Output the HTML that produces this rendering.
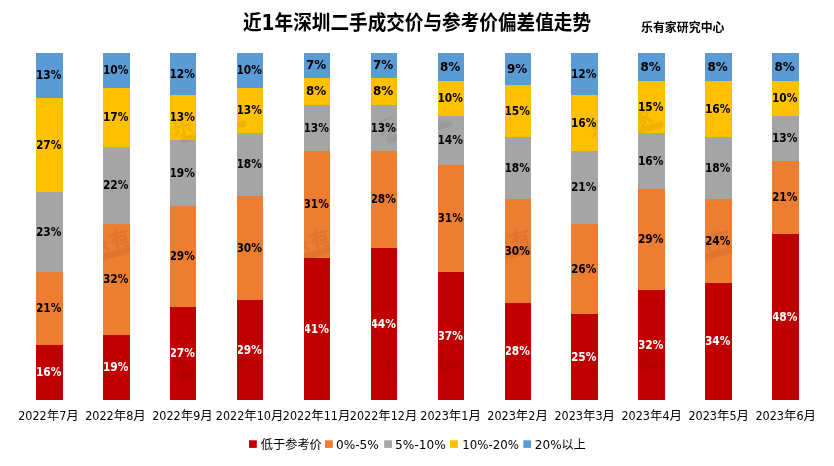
<!DOCTYPE html>
<html lang="zh-CN">
<head>
<meta charset="utf-8">
<title>近1年深圳二手成交价与参考价偏差值走势</title>
<style>
html,body{margin:0;padding:0;background:#fff;}
body{width:834px;height:466px;overflow:hidden;}
svg{display:block;}
.title{font-family:"DejaVu Sans","Liberation Sans","Noto Sans CJK SC",sans-serif;font-weight:bold;font-size:20.6px;fill:#000;}
.sub{font-family:"Liberation Sans","Noto Sans CJK SC",sans-serif;font-weight:bold;font-size:12px;fill:#000;}
.dl{font-family:"DejaVu Sans Condensed","DejaVu Sans","Liberation Sans",sans-serif;font-weight:bold;font-size:12px;fill:#000;text-anchor:middle;}
.dlw{fill:#fff;}
.ax{font-family:"DejaVu Sans Condensed","DejaVu Sans","Liberation Sans","Noto Sans CJK SC",sans-serif;font-size:12px;fill:#000;text-anchor:middle;}
.wm{opacity:0.06;fill:#000;}
.wm text{font-family:"Liberation Sans","Noto Sans CJK SC",sans-serif;font-weight:bold;font-size:21px;letter-spacing:1px;text-anchor:middle;}
.lg{font-family:"DejaVu Sans","Liberation Sans","Noto Sans CJK SC",sans-serif;font-size:12px;fill:#000;}
</style>
</head>
<body>
<svg width="834" height="466" viewBox="0 0 834 466">
<rect x="0" y="0" width="834" height="466" fill="#ffffff"/>
<text class="title" x="243" y="30" textLength="348" lengthAdjust="spacingAndGlyphs">近1年深圳二手成交价与参考价偏差值走势</text>
<text class="sub" x="641" y="32.1" textLength="83.5" lengthAdjust="spacingAndGlyphs">乐有家研究中心</text>

<defs>
<clipPath id="c0"><rect x="37" y="53" width="26" height="347"/></clipPath>
<clipPath id="c1"><rect x="104" y="53" width="26" height="347"/></clipPath>
<clipPath id="c2"><rect x="171" y="53" width="25" height="347"/></clipPath>
<clipPath id="c3"><rect x="238" y="53" width="25" height="347"/></clipPath>
<clipPath id="c4"><rect x="305" y="53" width="25" height="347"/></clipPath>
<clipPath id="c5"><rect x="372" y="53" width="25" height="347"/></clipPath>
<clipPath id="c6"><rect x="439" y="53" width="25" height="347"/></clipPath>
<clipPath id="c7"><rect x="506" y="53" width="25" height="347"/></clipPath>
<clipPath id="c8"><rect x="572" y="53" width="26" height="347"/></clipPath>
<clipPath id="c9"><rect x="639" y="53" width="26" height="347"/></clipPath>
<clipPath id="c10"><rect x="706" y="53" width="26" height="347"/></clipPath>
<clipPath id="c11"><rect x="773" y="53" width="26" height="347"/></clipPath>
<clipPath id="call"><rect x="36" y="53" width="27" height="347"/><rect x="103" y="53" width="27" height="347"/><rect x="170" y="53" width="26" height="347"/><rect x="237" y="53" width="26" height="347"/><rect x="304" y="53" width="26" height="347"/><rect x="371" y="53" width="26" height="347"/><rect x="438" y="53" width="26" height="347"/><rect x="505" y="53" width="26" height="347"/><rect x="571" y="53" width="27" height="347"/><rect x="638" y="53" width="27" height="347"/><rect x="705" y="53" width="27" height="347"/><rect x="772" y="53" width="27" height="347"/></clipPath>
</defs>
<g>
<rect x="36" y="53" width="27" height="45" fill="#5B9BD5"/>
<rect x="36" y="98" width="27" height="94" fill="#FFC000"/>
<rect x="36" y="192" width="27" height="80" fill="#A5A5A5"/>
<rect x="36" y="272" width="27" height="73" fill="#ED7D31"/>
<rect x="36" y="345" width="27" height="55" fill="#C00000"/>
</g>
<g>
<rect x="103" y="53" width="27" height="35" fill="#5B9BD5"/>
<rect x="103" y="88" width="27" height="59" fill="#FFC000"/>
<rect x="103" y="147" width="27" height="77" fill="#A5A5A5"/>
<rect x="103" y="224" width="27" height="111" fill="#ED7D31"/>
<rect x="103" y="335" width="27" height="65" fill="#C00000"/>
</g>
<g>
<rect x="170" y="53" width="26" height="42" fill="#5B9BD5"/>
<rect x="170" y="95" width="26" height="45" fill="#FFC000"/>
<rect x="170" y="140" width="26" height="66" fill="#A5A5A5"/>
<rect x="170" y="206" width="26" height="101" fill="#ED7D31"/>
<rect x="170" y="307" width="26" height="93" fill="#C00000"/>
</g>
<g>
<rect x="237" y="53" width="26" height="35" fill="#5B9BD5"/>
<rect x="237" y="88" width="26" height="45" fill="#FFC000"/>
<rect x="237" y="133" width="26" height="63" fill="#A5A5A5"/>
<rect x="237" y="196" width="26" height="104" fill="#ED7D31"/>
<rect x="237" y="300" width="26" height="100" fill="#C00000"/>
</g>
<g>
<rect x="304" y="53" width="26" height="25" fill="#5B9BD5"/>
<rect x="304" y="78" width="26" height="27" fill="#FFC000"/>
<rect x="304" y="105" width="26" height="46" fill="#A5A5A5"/>
<rect x="304" y="151" width="26" height="107" fill="#ED7D31"/>
<rect x="304" y="258" width="26" height="142" fill="#C00000"/>
</g>
<g>
<rect x="371" y="53" width="26" height="25" fill="#5B9BD5"/>
<rect x="371" y="78" width="26" height="27" fill="#FFC000"/>
<rect x="371" y="105" width="26" height="46" fill="#A5A5A5"/>
<rect x="371" y="151" width="26" height="97" fill="#ED7D31"/>
<rect x="371" y="248" width="26" height="152" fill="#C00000"/>
</g>
<g>
<rect x="438" y="53" width="26" height="28" fill="#5B9BD5"/>
<rect x="438" y="81" width="26" height="35" fill="#FFC000"/>
<rect x="438" y="116" width="26" height="49" fill="#A5A5A5"/>
<rect x="438" y="165" width="26" height="107" fill="#ED7D31"/>
<rect x="438" y="272" width="26" height="128" fill="#C00000"/>
</g>
<g>
<rect x="505" y="53" width="26" height="32" fill="#5B9BD5"/>
<rect x="505" y="85" width="26" height="52" fill="#FFC000"/>
<rect x="505" y="137" width="26" height="62" fill="#A5A5A5"/>
<rect x="505" y="199" width="26" height="104" fill="#ED7D31"/>
<rect x="505" y="303" width="26" height="97" fill="#C00000"/>
</g>
<g>
<rect x="571" y="53" width="27" height="42" fill="#5B9BD5"/>
<rect x="571" y="95" width="27" height="56" fill="#FFC000"/>
<rect x="571" y="151" width="27" height="73" fill="#A5A5A5"/>
<rect x="571" y="224" width="27" height="90" fill="#ED7D31"/>
<rect x="571" y="314" width="27" height="86" fill="#C00000"/>
</g>
<g>
<rect x="638" y="53" width="27" height="28" fill="#5B9BD5"/>
<rect x="638" y="81" width="27" height="52" fill="#FFC000"/>
<rect x="638" y="133" width="27" height="56" fill="#A5A5A5"/>
<rect x="638" y="189" width="27" height="101" fill="#ED7D31"/>
<rect x="638" y="290" width="27" height="110" fill="#C00000"/>
</g>
<g>
<rect x="705" y="53" width="27" height="28" fill="#5B9BD5"/>
<rect x="705" y="81" width="27" height="56" fill="#FFC000"/>
<rect x="705" y="137" width="27" height="62" fill="#A5A5A5"/>
<rect x="705" y="199" width="27" height="84" fill="#ED7D31"/>
<rect x="705" y="283" width="27" height="117" fill="#C00000"/>
</g>
<g>
<rect x="772" y="53" width="27" height="28" fill="#5B9BD5"/>
<rect x="772" y="81" width="27" height="35" fill="#FFC000"/>
<rect x="772" y="116" width="27" height="45" fill="#A5A5A5"/>
<rect x="772" y="161" width="27" height="73" fill="#ED7D31"/>
<rect x="772" y="234" width="27" height="166" fill="#C00000"/>
</g>
<g clip-path="url(#call)" class="wm">
<g transform="translate(120.5,239.5) rotate(-15)"><text x="0" y="7.5">乐有家</text><rect x="-28" y="9.3" width="68" height="6.4" rx="3"/></g>
<g transform="translate(320.5,239.5) rotate(-15)"><text x="0" y="7.5">乐有家</text><rect x="-28" y="9.3" width="68" height="6.4" rx="3"/></g>
<g transform="translate(521,239.5) rotate(-15)"><text x="0" y="7.5">乐有家</text><rect x="-28" y="9.3" width="68" height="6.4" rx="3"/></g>
<g transform="translate(722,239.5) rotate(-15)"><text x="0" y="7.5">乐有家</text><rect x="-28" y="9.3" width="68" height="6.4" rx="3"/></g>
<g transform="translate(204.3,121.3) rotate(-15)"><text x="0" y="7.5">乐有家</text><rect x="-28" y="9.3" width="68" height="6.4" rx="3"/></g>
<g transform="translate(410.3,121.3) rotate(-15)"><text x="0" y="7.5">乐有家</text><rect x="-28" y="9.3" width="68" height="6.4" rx="3"/></g>
<g transform="translate(621.3,122.3) rotate(-15)"><text x="0" y="7.5">乐有家</text><rect x="-28" y="9.3" width="68" height="6.4" rx="3"/></g>
<g transform="translate(203.8,359.3) rotate(-15)"><text x="0" y="7.5">乐有家</text><rect x="-28" y="9.3" width="68" height="6.4" rx="3"/></g>
<g transform="translate(417.3,362.3) rotate(-15)"><text x="0" y="7.5">乐有家</text><rect x="-28" y="9.3" width="68" height="6.4" rx="3"/></g>
<g transform="translate(621.3,360.3) rotate(-15)"><text x="0" y="7.5">乐有家</text><rect x="-28" y="9.3" width="68" height="6.4" rx="3"/></g>
</g>
<g>
<g clip-path="url(#c0)">
<text class="dl" x="48.7" y="79.0" textLength="25.5" lengthAdjust="spacingAndGlyphs">13%</text>
<text class="dl" x="48.7" y="148.5" textLength="25.5" lengthAdjust="spacingAndGlyphs">27%</text>
<text class="dl" x="48.7" y="235.5" textLength="25.5" lengthAdjust="spacingAndGlyphs">23%</text>
<text class="dl" x="48.7" y="312.0" textLength="25.5" lengthAdjust="spacingAndGlyphs">21%</text>
<text class="dl dlw" x="48.7" y="376.0" textLength="25.5" lengthAdjust="spacingAndGlyphs">16%</text>
</g>
</g>
<g>
<g clip-path="url(#c1)">
<text class="dl" x="115.7" y="74.0" textLength="25.5" lengthAdjust="spacingAndGlyphs">10%</text>
<text class="dl" x="115.7" y="121.0" textLength="25.5" lengthAdjust="spacingAndGlyphs">17%</text>
<text class="dl" x="115.7" y="189.0" textLength="25.5" lengthAdjust="spacingAndGlyphs">22%</text>
<text class="dl" x="115.7" y="283.0" textLength="25.5" lengthAdjust="spacingAndGlyphs">32%</text>
<text class="dl dlw" x="115.7" y="371.0" textLength="25.5" lengthAdjust="spacingAndGlyphs">19%</text>
</g>
</g>
<g>
<g clip-path="url(#c2)">
<text class="dl" x="182.2" y="77.5" textLength="25.5" lengthAdjust="spacingAndGlyphs">12%</text>
<text class="dl" x="182.2" y="121.0" textLength="25.5" lengthAdjust="spacingAndGlyphs">13%</text>
<text class="dl" x="182.2" y="176.5" textLength="25.5" lengthAdjust="spacingAndGlyphs">19%</text>
<text class="dl" x="182.2" y="260.0" textLength="25.5" lengthAdjust="spacingAndGlyphs">29%</text>
<text class="dl dlw" x="182.2" y="357.0" textLength="25.5" lengthAdjust="spacingAndGlyphs">27%</text>
</g>
</g>
<g>
<g clip-path="url(#c3)">
<text class="dl" x="249.2" y="74.0" textLength="25.5" lengthAdjust="spacingAndGlyphs">10%</text>
<text class="dl" x="249.2" y="114.0" textLength="25.5" lengthAdjust="spacingAndGlyphs">13%</text>
<text class="dl" x="249.2" y="168.0" textLength="25.5" lengthAdjust="spacingAndGlyphs">18%</text>
<text class="dl" x="249.2" y="251.5" textLength="25.5" lengthAdjust="spacingAndGlyphs">30%</text>
<text class="dl dlw" x="249.2" y="353.5" textLength="25.5" lengthAdjust="spacingAndGlyphs">29%</text>
</g>
</g>
<g>
<g clip-path="url(#c4)">
<text class="dl" x="316.2" y="69.0" textLength="20.3" lengthAdjust="spacingAndGlyphs">7%</text>
<text class="dl" x="316.2" y="95.0" textLength="20.3" lengthAdjust="spacingAndGlyphs">8%</text>
<text class="dl" x="316.2" y="131.5" textLength="25.5" lengthAdjust="spacingAndGlyphs">13%</text>
<text class="dl" x="316.2" y="208.0" textLength="25.5" lengthAdjust="spacingAndGlyphs">31%</text>
<text class="dl dlw" x="316.2" y="332.5" textLength="25.5" lengthAdjust="spacingAndGlyphs">41%</text>
</g>
</g>
<g>
<g clip-path="url(#c5)">
<text class="dl" x="383.2" y="69.0" textLength="20.3" lengthAdjust="spacingAndGlyphs">7%</text>
<text class="dl" x="383.2" y="95.0" textLength="20.3" lengthAdjust="spacingAndGlyphs">8%</text>
<text class="dl" x="383.2" y="131.5" textLength="25.5" lengthAdjust="spacingAndGlyphs">13%</text>
<text class="dl" x="383.2" y="203.0" textLength="25.5" lengthAdjust="spacingAndGlyphs">28%</text>
<text class="dl dlw" x="383.2" y="327.5" textLength="25.5" lengthAdjust="spacingAndGlyphs">44%</text>
</g>
</g>
<g>
<g clip-path="url(#c6)">
<text class="dl" x="450.2" y="70.5" textLength="20.3" lengthAdjust="spacingAndGlyphs">8%</text>
<text class="dl" x="450.2" y="102.0" textLength="25.5" lengthAdjust="spacingAndGlyphs">10%</text>
<text class="dl" x="450.2" y="144.0" textLength="25.5" lengthAdjust="spacingAndGlyphs">14%</text>
<text class="dl" x="450.2" y="222.0" textLength="25.5" lengthAdjust="spacingAndGlyphs">31%</text>
<text class="dl dlw" x="450.2" y="339.5" textLength="25.5" lengthAdjust="spacingAndGlyphs">37%</text>
</g>
</g>
<g>
<g clip-path="url(#c7)">
<text class="dl" x="517.2" y="72.5" textLength="20.3" lengthAdjust="spacingAndGlyphs">9%</text>
<text class="dl" x="517.2" y="114.5" textLength="25.5" lengthAdjust="spacingAndGlyphs">15%</text>
<text class="dl" x="517.2" y="171.5" textLength="25.5" lengthAdjust="spacingAndGlyphs">18%</text>
<text class="dl" x="517.2" y="254.5" textLength="25.5" lengthAdjust="spacingAndGlyphs">30%</text>
<text class="dl dlw" x="517.2" y="355.0" textLength="25.5" lengthAdjust="spacingAndGlyphs">28%</text>
</g>
</g>
<g>
<g clip-path="url(#c8)">
<text class="dl" x="583.7" y="77.5" textLength="25.5" lengthAdjust="spacingAndGlyphs">12%</text>
<text class="dl" x="583.7" y="126.5" textLength="25.5" lengthAdjust="spacingAndGlyphs">16%</text>
<text class="dl" x="583.7" y="191.0" textLength="25.5" lengthAdjust="spacingAndGlyphs">21%</text>
<text class="dl" x="583.7" y="272.5" textLength="25.5" lengthAdjust="spacingAndGlyphs">26%</text>
<text class="dl dlw" x="583.7" y="360.5" textLength="25.5" lengthAdjust="spacingAndGlyphs">25%</text>
</g>
</g>
<g>
<g clip-path="url(#c9)">
<text class="dl" x="650.7" y="70.5" textLength="20.3" lengthAdjust="spacingAndGlyphs">8%</text>
<text class="dl" x="650.7" y="110.5" textLength="25.5" lengthAdjust="spacingAndGlyphs">15%</text>
<text class="dl" x="650.7" y="164.5" textLength="25.5" lengthAdjust="spacingAndGlyphs">16%</text>
<text class="dl" x="650.7" y="243.0" textLength="25.5" lengthAdjust="spacingAndGlyphs">29%</text>
<text class="dl dlw" x="650.7" y="348.5" textLength="25.5" lengthAdjust="spacingAndGlyphs">32%</text>
</g>
</g>
<g>
<g clip-path="url(#c10)">
<text class="dl" x="717.7" y="70.5" textLength="20.3" lengthAdjust="spacingAndGlyphs">8%</text>
<text class="dl" x="717.7" y="112.5" textLength="25.5" lengthAdjust="spacingAndGlyphs">16%</text>
<text class="dl" x="717.7" y="171.5" textLength="25.5" lengthAdjust="spacingAndGlyphs">18%</text>
<text class="dl" x="717.7" y="244.5" textLength="25.5" lengthAdjust="spacingAndGlyphs">24%</text>
<text class="dl dlw" x="717.7" y="345.0" textLength="25.5" lengthAdjust="spacingAndGlyphs">34%</text>
</g>
</g>
<g>
<g clip-path="url(#c11)">
<text class="dl" x="784.7" y="70.5" textLength="20.3" lengthAdjust="spacingAndGlyphs">8%</text>
<text class="dl" x="784.7" y="102.0" textLength="25.5" lengthAdjust="spacingAndGlyphs">10%</text>
<text class="dl" x="784.7" y="142.0" textLength="25.5" lengthAdjust="spacingAndGlyphs">13%</text>
<text class="dl" x="784.7" y="201.0" textLength="25.5" lengthAdjust="spacingAndGlyphs">21%</text>
<text class="dl dlw" x="784.7" y="320.5" textLength="25.5" lengthAdjust="spacingAndGlyphs">48%</text>
</g>
</g>
<text class="ax" x="48.5" y="419.5" textLength="60.6" lengthAdjust="spacingAndGlyphs">2022年7月</text>
<text class="ax" x="115.5" y="419.5" textLength="60.6" lengthAdjust="spacingAndGlyphs">2022年8月</text>
<text class="ax" x="182.5" y="419.5" textLength="60.6" lengthAdjust="spacingAndGlyphs">2022年9月</text>
<text class="ax" x="249.6" y="419.5" textLength="67.5" lengthAdjust="spacingAndGlyphs">2022年10月</text>
<text class="ax" x="316.6" y="419.5" textLength="67.5" lengthAdjust="spacingAndGlyphs">2022年11月</text>
<text class="ax" x="383.6" y="419.5" textLength="67.5" lengthAdjust="spacingAndGlyphs">2022年12月</text>
<text class="ax" x="450.6" y="419.5" textLength="60.6" lengthAdjust="spacingAndGlyphs">2023年1月</text>
<text class="ax" x="517.6" y="419.5" textLength="60.6" lengthAdjust="spacingAndGlyphs">2023年2月</text>
<text class="ax" x="584.7" y="419.5" textLength="60.6" lengthAdjust="spacingAndGlyphs">2023年3月</text>
<text class="ax" x="651.7" y="419.5" textLength="60.6" lengthAdjust="spacingAndGlyphs">2023年4月</text>
<text class="ax" x="718.7" y="419.5" textLength="60.6" lengthAdjust="spacingAndGlyphs">2023年5月</text>
<text class="ax" x="785.7" y="419.5" textLength="60.6" lengthAdjust="spacingAndGlyphs">2023年6月</text>
<rect x="249.0" y="440.3" width="7.8" height="7.6" fill="#C00000"/>
<text class="lg" x="260.8" y="448.6" textLength="61.0" lengthAdjust="spacingAndGlyphs">低于参考价</text>
<rect x="325.0" y="440.3" width="7.8" height="7.6" fill="#ED7D31"/>
<text class="lg" x="336.0" y="448.6" textLength="42.8" lengthAdjust="spacingAndGlyphs">0%-5%</text>
<rect x="384.2" y="440.3" width="7.8" height="7.6" fill="#A5A5A5"/>
<text class="lg" x="395.0" y="448.6" textLength="50.9" lengthAdjust="spacingAndGlyphs">5%-10%</text>
<rect x="450.0" y="440.3" width="7.8" height="7.6" fill="#FFC000"/>
<text class="lg" x="462.3" y="448.6" textLength="56.6" lengthAdjust="spacingAndGlyphs">10%-20%</text>
<rect x="523.3" y="440.3" width="7.8" height="7.6" fill="#5B9BD5"/>
<text class="lg" x="534.8" y="448.6" textLength="50.9" lengthAdjust="spacingAndGlyphs">20%以上</text>
</svg>
</body>
</html>
